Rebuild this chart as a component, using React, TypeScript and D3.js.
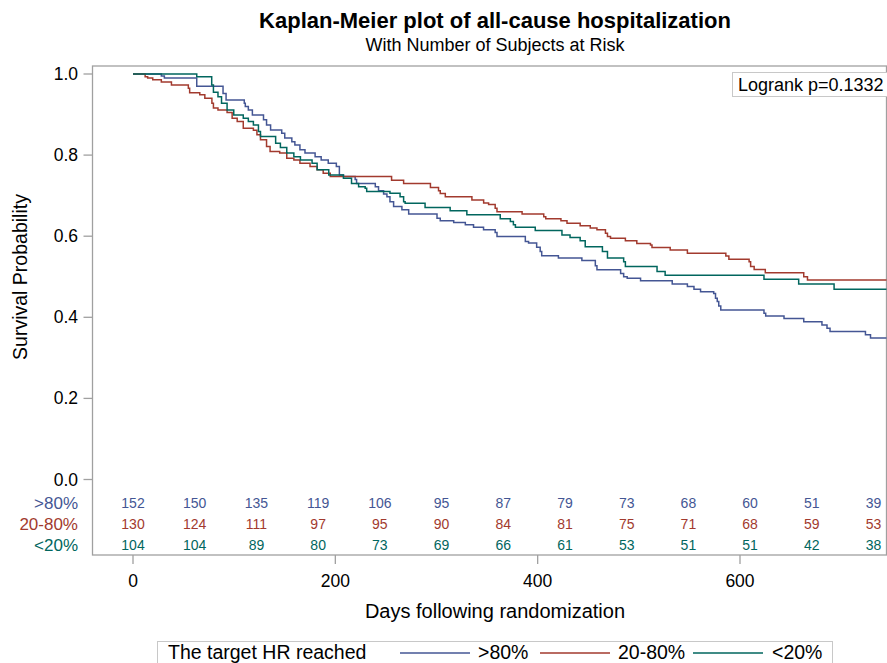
import React from "react";
import * as d3 from "d3";

const groups = [">80%", "20-80%", "<20%"];
const colors = ["#445694", "#A23A2E", "#01665E"];

// [day, survival] step points
const blueSteps: [number, number][] = [
  [0, 1.0], [28, 0.995], [31, 0.99], [63, 0.97], [89, 0.952], [92, 0.936], [110, 0.928], [111, 0.92],
  [114, 0.911], [118, 0.899], [129, 0.887], [132, 0.874], [136, 0.862], [147, 0.854], [150, 0.842],
  [157, 0.833], [160, 0.825], [165, 0.813], [170, 0.805], [180, 0.796], [186, 0.788], [193, 0.78],
  [201, 0.772], [204, 0.751], [208, 0.747], [219.6, 0.74], [221, 0.73], [239.5, 0.722], [242.7, 0.712],
  [247.7, 0.704], [251, 0.697], [254, 0.685], [257.6, 0.673], [265.8, 0.665], [272.5, 0.655],
  [300.5, 0.644], [303.7, 0.638], [317, 0.634], [328.5, 0.628], [336.6, 0.622], [346.5, 0.616],
  [358, 0.609], [359.8, 0.599], [387.8, 0.587], [391, 0.583], [399, 0.573], [402.5, 0.562],
  [404, 0.552], [420.5, 0.546], [443.7, 0.54], [457, 0.527], [458.6, 0.517], [482, 0.508],
  [485, 0.5], [488.5, 0.496], [501.7, 0.49], [533, 0.482], [548, 0.476], [554.5, 0.469],
  [561, 0.463], [574, 0.459], [575.8, 0.447], [577.5, 0.439], [579, 0.428], [581, 0.418],
  [623.7, 0.41], [625.4, 0.403], [643.5, 0.397], [663, 0.389], [681, 0.381], [686, 0.373],
  [689, 0.365], [724, 0.357], [729, 0.349], [760, 0.349],
];

const redSteps: [number, number][] = [
  [0, 1.0], [12, 0.993], [14.5, 0.99], [19.5, 0.986], [28, 0.98], [38, 0.973], [54.7, 0.965],
  [56, 0.954], [66, 0.949], [71, 0.94], [78, 0.928], [79.5, 0.916], [84, 0.911], [93, 0.905],
  [98, 0.891], [103, 0.883], [109, 0.866], [119, 0.861], [122.5, 0.85], [126, 0.838], [132, 0.821],
  [135.5, 0.809], [145, 0.805], [152, 0.792], [159, 0.788], [165, 0.78], [175, 0.772], [182, 0.764],
  [188, 0.755], [195, 0.747], [255.6, 0.738], [267.5, 0.73], [294, 0.72], [302, 0.712],
  [303.7, 0.705], [308.7, 0.697], [335, 0.689], [346.6, 0.682], [351.5, 0.678], [358, 0.669],
  [359.8, 0.66], [384.6, 0.655], [406, 0.648], [408, 0.643], [423, 0.638], [429, 0.632],
  [442, 0.626], [452, 0.62], [458.6, 0.616], [467, 0.607], [469, 0.599], [472, 0.595],
  [486.7, 0.589], [498, 0.582], [511.5, 0.578], [513, 0.572], [531, 0.566], [548, 0.558],
  [586, 0.551], [589, 0.543], [609, 0.537], [610.5, 0.525], [614, 0.518], [625, 0.51],
  [663, 0.5], [666.7, 0.492], [760, 0.492],
];

const greenSteps: [number, number][] = [
  [0, 1.0], [63, 0.993], [77.8, 0.973], [79.5, 0.955], [84, 0.944], [87.5, 0.928], [93, 0.911],
  [99.6, 0.899], [109, 0.891], [114, 0.883], [119, 0.874], [124, 0.858], [126, 0.846], [141, 0.829],
  [145.7, 0.819], [152, 0.805], [159, 0.796], [165.5, 0.788], [177, 0.78], [182, 0.764],
  [193.5, 0.751], [208, 0.743], [216, 0.73], [223, 0.722], [229.5, 0.718], [231, 0.71],
  [254, 0.706], [264, 0.697], [267.5, 0.685], [269, 0.681], [288.7, 0.671], [313.5, 0.663],
  [330, 0.653], [363, 0.643], [373, 0.636], [376, 0.628], [378, 0.622], [397.6, 0.614],
  [424, 0.603], [432, 0.597], [442, 0.589], [447, 0.574], [464, 0.562], [469, 0.546],
  [485, 0.537], [486.7, 0.525], [518, 0.513], [526, 0.504], [623.7, 0.494], [658, 0.482],
  [693, 0.469], [760, 0.469],
];

const riskTimes = [0, 61, 122, 183, 244, 305, 366, 427, 488, 549, 610, 671, 732];
const riskBlue = [152, 150, 135, 119, 106, 95, 87, 79, 73, 68, 60, 51, 39];
const riskRed = [130, 124, 111, 97, 95, 90, 84, 81, 75, 71, 68, 59, 53];
const riskGreen = [104, 104, 89, 80, 73, 69, 66, 61, 53, 51, 51, 42, 38];

const xTicks = [0, 200, 400, 600];
const yTicks = [0, 0.2, 0.4, 0.6, 0.8, 1.0];

const titleText = "Kaplan-Meier plot of all-cause hospitalization";
const subtitleText = "With Number of Subjects at Risk";
const logrankText = "Logrank p=0.1332";
const legendTitle = "The target HR reached";

export default function App() {
  const W = 887, H = 663;
  const left = 92.5, top = 66, right = 886.5, bottom = 555;
  const x = d3.scaleLinear().domain([0, 600]).range([133, 740]);
  const y = d3.scaleLinear().domain([0, 1]).range([479.5, 74]);
  const line = d3
    .line<[number, number]>()
    .x((d) => x(d[0]))
    .y((d) => y(d[1]))
    .curve(d3.curveStepAfter);
  const series = [blueSteps, redSteps, greenSteps];
  const risks = [riskBlue, riskRed, riskGreen];
  const rowY = [503, 524, 545];
  const font = "Arial, 'Liberation Sans', sans-serif";
  const axisGray = "#a0a0a0";

  const legendItems = [
    { x1: 400, x2: 470, tx: 478 },
    { x1: 540, x2: 610, tx: 618 },
    { x1: 693, x2: 763, tx: 772 },
  ];

  return (
    <svg width={W} height={H} style={{ position: "absolute", left: 0, top: 0 }} fontFamily={font}>
      <rect x={0} y={0} width={W} height={H} fill="#fff" />
      <text x={495} y={28} textAnchor="middle" fontSize={22} fontWeight="bold" fill="#000">
        {titleText}
      </text>
      <text x={495} y={51} textAnchor="middle" fontSize={18} fill="#000">
        {subtitleText}
      </text>

      <defs>
        <clipPath id="plotClip">
          <rect x={left} y={top} width={right - left} height={bottom - top} />
        </clipPath>
      </defs>

      {/* frame */}
      <rect x={left} y={top} width={right - left} height={bottom - top} fill="none" stroke={axisGray} strokeWidth={1.3} />

      {/* y ticks */}
      {yTicks.map((t) => (
        <g key={t}>
          <line x1={left - 9} x2={left} y1={y(t)} y2={y(t)} stroke={axisGray} strokeWidth={1.3} />
          <text x={78} y={y(t) + 6} textAnchor="end" fontSize={17.5} fill="#000">
            {t.toFixed(1)}
          </text>
        </g>
      ))}
      {/* x ticks */}
      {xTicks.map((t) => (
        <g key={t}>
          <line x1={x(t)} x2={x(t)} y1={bottom} y2={bottom + 9} stroke={axisGray} strokeWidth={1.3} />
          <text x={x(t)} y={bottom + 32} textAnchor="middle" fontSize={17.5} fill="#000">
            {t}
          </text>
        </g>
      ))}

      <text
        transform={`translate(27, 277) rotate(-90)`}
        textAnchor="middle"
        fontSize={19.5}
        fill="#000"
      >
        Survival Probability
      </text>
      <text x={495} y={618} textAnchor="middle" fontSize={20} fill="#000">
        Days following randomization
      </text>

      {/* curves */}
      <g clipPath="url(#plotClip)">
        {series.map((s, i) => (
          <path key={i} d={line(s) || ""} fill="none" stroke={colors[i]} strokeWidth={1.5} />
        ))}
      </g>

      {/* logrank box */}
      <rect x={732.5} y={72.5} width={160} height={24} fill="#fff" stroke="#c8c8c8" strokeWidth={1} />
      <text x={738} y={91} fontSize={18} fill="#000">
        {logrankText}
      </text>

      {/* risk table */}
      {groups.map((g, i) => (
        <g key={g}>
          <text x={78} y={rowY[i] + 6} textAnchor="end" fontSize={17} fill={colors[i]}>
            {g}
          </text>
          {riskTimes.map((t, j) => (
            <text key={t} x={x(t)} y={rowY[i] + 5} textAnchor="middle" fontSize={14} fill={colors[i]}>
              {risks[i][j]}
            </text>
          ))}
        </g>
      ))}

      {/* legend */}
      <rect x={157.5} y={641.5} width={675} height={30} fill="#fff" stroke="#c8c8c8" strokeWidth={1} />
      <text x={168} y={659} fontSize={19.5} fill="#000">
        {legendTitle}
      </text>
      {legendItems.map((it, i) => (
        <g key={i}>
          <line x1={it.x1} x2={it.x2} y1={653} y2={653} stroke={colors[i]} strokeWidth={1.5} />
          <text x={it.tx} y={659} fontSize={19.5} fill="#000">
            {groups[i]}
          </text>
        </g>
      ))}
    </svg>
  );
}
